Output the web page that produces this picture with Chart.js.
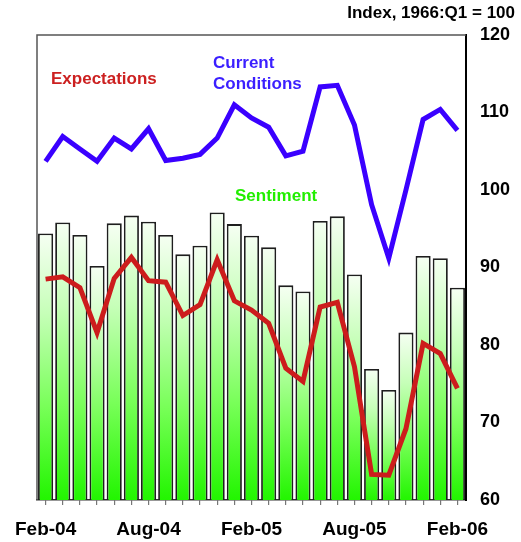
<!DOCTYPE html>
<html>
<head>
<meta charset="utf-8">
<script src="https://cdn.jsdelivr.net/npm/chart.js@4.4.1/dist/chart.umd.min.js"></script>
<style>
  html, body { margin: 0; padding: 0; background: #fff; }
  #wrap { width: 521px; height: 542px; position: relative; }
</style>
</head>
<body>
<div id="wrap"><canvas id="c" width="521" height="542"></canvas></div>
<script>
// Monthly survey months, Feb 2004 through Feb 2006
const months = [
  'Feb-04','Mar-04','Apr-04','May-04','Jun-04','Jul-04','Aug-04','Sep-04','Oct-04','Nov-04','Dec-04','Jan-05',
  'Feb-05','Mar-05','Apr-05','May-05','Jun-05','Jul-05','Aug-05','Sep-05','Oct-05','Nov-05','Dec-05','Jan-06','Feb-06'
];
// Only these months carry a visible axis label
const labeledMonths = ['Feb-04','Aug-04','Feb-05','Aug-05','Feb-06'];

// Index of consumer sentiment (bars)
const sentiment = [
  94.4, 95.8, 94.2, 90.2, 95.7, 96.7, 95.9, 94.2, 91.7, 92.8, 97.1, 95.6,
  94.1, 92.6, 87.7, 86.9, 96.0, 96.6, 89.1, 76.9, 74.2, 81.6, 91.5, 91.2, 87.4
];
// Index of current economic conditions
const currentConditions = [
  103.7, 106.9, 105.3, 103.7, 106.7, 105.3, 107.9, 103.8, 104.1, 104.6, 106.7, 111.0,
  109.3, 108.1, 104.4, 105.0, 113.3, 113.5, 108.4, 98.1, 91.2, 100.0, 109.1, 110.4, 107.7
];
// Index of consumer expectations
const expectations = [
  88.5, 88.8, 87.4, 81.6, 88.6, 91.3, 88.3, 88.1, 83.8, 85.2, 91.0, 85.7,
  84.5, 82.8, 77.0, 75.3, 84.9, 85.5, 77.2, 63.3, 63.2, 69.2, 80.2, 78.9, 74.4
];
// Right-hand value axis
const yTicks = [60, 70, 80, 90, 100, 110, 120];

const FONT = '"Liberation Sans", Arial, Helvetica, sans-serif';

// Each bar fades from white at its top to bright green at the baseline
function barGradient(ctx) {
  const chart = ctx.chart;
  if (!chart.chartArea || !chart.scales.y) return '#9f9';
  const y = chart.scales.y;
  const top = y.getPixelForValue(ctx.raw);
  const bottom = y.getPixelForValue(yTicks[0]);
  const g = chart.ctx.createLinearGradient(0, top, 0, bottom);
  g.addColorStop(0, '#f6fff3');
  g.addColorStop(0.3, '#c6ffb8');
  g.addColorStop(0.65, '#78ff58');
  g.addColorStop(1, '#22f500');
  return g;
}

// Frame lines on the left and top of the plot, plus the series captions and units note
const decorations = {
  id: 'decorations',
  beforeDatasetsDraw(chart) {
    const { ctx, chartArea: a } = chart;
    ctx.save();
    ctx.strokeStyle = '#555';
    ctx.lineWidth = 1.5;
    ctx.beginPath();
    ctx.moveTo(a.left, a.bottom);
    ctx.lineTo(a.left, a.top);
    ctx.lineTo(a.right, a.top);
    ctx.stroke();
    ctx.restore();
  },
  afterDraw(chart) {
    const { ctx } = chart;
    ctx.save();
    ctx.textBaseline = 'alphabetic';
    ctx.font = 'bold 17px ' + FONT;
    ctx.textAlign = 'right';
    ctx.fillStyle = '#000';
    ctx.fillText('Index, 1966:Q1 = 100', 515, 18);

    ctx.textAlign = 'left';
    ctx.font = 'bold 17px ' + FONT;
    ctx.fillStyle = '#cc2020';
    ctx.fillText('Expectations', 51, 84);
    ctx.fillStyle = '#3b1fff';
    ctx.fillText('Current', 213, 68);
    ctx.fillText('Conditions', 213, 89);
    ctx.fillStyle = '#22ee00';
    ctx.fillText('Sentiment', 235, 201);
    ctx.restore();
  }
};

new Chart(document.getElementById('c'), {
  type: 'bar',
  data: {
    labels: months,
    datasets: [
      {
        type: 'line',
        label: 'Current Conditions',
        data: currentConditions,
        borderColor: '#3a00ff',
        borderWidth: 5,
        pointRadius: 0,
        tension: 0,
        borderJoinStyle: 'miter',
        order: 1
      },
      {
        type: 'line',
        label: 'Expectations',
        data: expectations,
        borderColor: '#cc1c1c',
        borderWidth: 5,
        pointRadius: 0,
        tension: 0,
        borderJoinStyle: 'miter',
        order: 2
      },
      {
        type: 'bar',
        label: 'Sentiment',
        data: sentiment,
        backgroundColor: barGradient,
        borderColor: '#1e1e1e',
        borderWidth: 1.8,
        borderSkipped: 'bottom',
        categoryPercentage: 1.0,
        barPercentage: 0.88,
        base: yTicks[0],
        order: 3
      }
    ]
  },
  options: {
    responsive: false,
    animation: false,
    events: [],
    layout: { padding: { left: 37, top: 35, right: 0, bottom: 0 } },
    plugins: {
      legend: { display: false },
      tooltip: { enabled: false },
      title: { display: false }
    },
    scales: {
      x: {
        type: 'category',
        offset: true,
        grid: {
          display: true,
          drawOnChartArea: false,
          drawTicks: true,
          tickLength: 5,
          offset: false,
          color: '#777',
          lineWidth: 1.2
        },
        border: { display: true, color: '#333', width: 1.5 },
        ticks: {
          autoSkip: false,
          maxRotation: 0,
          minRotation: 0,
          padding: 13,
          color: '#000',
          font: { family: FONT, size: 19, weight: 'bold' },
          callback(value) {
            const lab = this.getLabelForValue(value);
            return labeledMonths.includes(lab) ? lab : '';
          }
        },
        afterFit(scale) { scale.height = 42; }
      },
      y: {
        position: 'right',
        min: yTicks[0],
        max: yTicks[yTicks.length - 1],
        grid: { display: false, drawTicks: false },
        border: { display: true, color: '#000', width: 2 },
        ticks: {
          stepSize: 10,
          padding: 14,
          color: '#000',
          font: { family: FONT, size: 18, weight: 'bold' }
        },
        afterBuildTicks(scale) { scale.ticks = yTicks.map(v => ({ value: v })); },
        afterFit(scale) { scale.width = 55; }
      }
    }
  },
  plugins: [decorations]
});
</script>
</body>
</html>
